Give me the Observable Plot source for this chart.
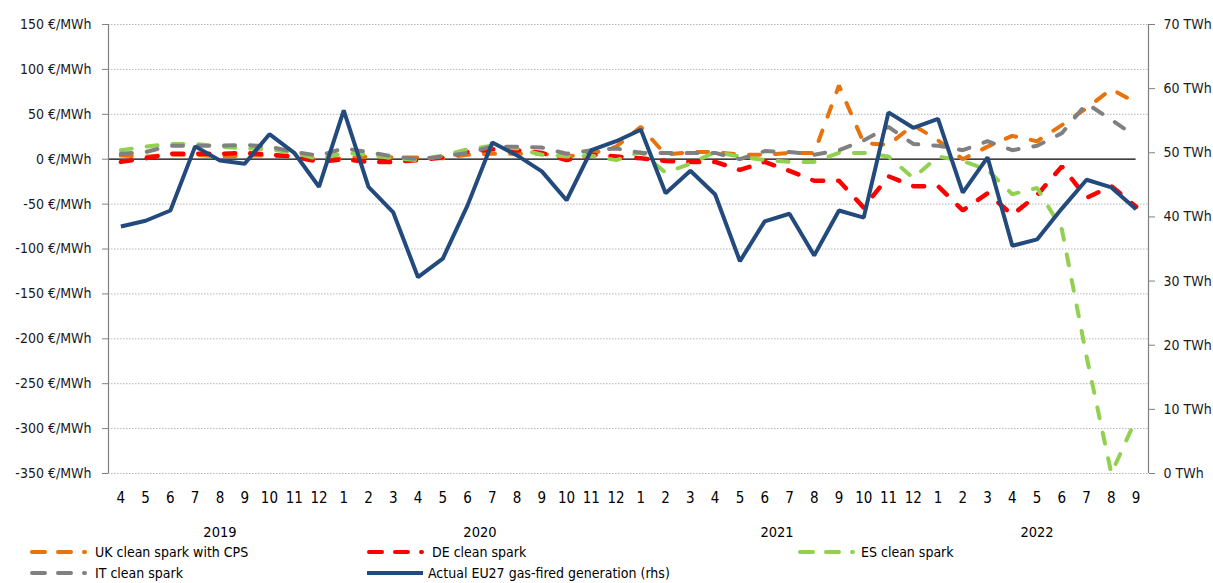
<!DOCTYPE html>
<html>
<head>
<meta charset="utf-8">
<script src="https://cdn.jsdelivr.net/npm/d3@7"></script>
<script src="https://cdn.jsdelivr.net/npm/@observablehq/plot@0.6"></script>
<style>
  body { margin: 0; background: #fff; }
  #wrap { position: relative; width: 1213px; height: 583px; font-family: "DejaVu Sans Condensed", "DejaVu Sans", sans-serif; font-stretch: condensed; }
  #legend { position: absolute; left: 0; top: 541px; width: 1213px; height: 42px; font-size: 14px; color: #000; }
  .item { position: absolute; height: 20px; display: flex; align-items: center; white-space: nowrap; }
  .item svg { position: absolute; left: 0; top: 5px; }
  .item span { position: absolute; top: 0; line-height: 20px; }
</style>
</head>
<body>
<div id="wrap">
  <div id="chart"></div>
  <div id="legend"></div>
</div>
<script>
// ---- Data ----
// Months from 2019-04 to 2022-09
const monthLabels = [4,5,6,7,8,9,10,11,12,
  1,2,3,4,5,6,7,8,9,10,11,12,
  1,2,3,4,5,6,7,8,9,10,11,12,
  1,2,3,4,5,6,7,8,9];
const firstYear = 2019;

// €/MWh (left axis)
const ukCPS = [4,3,5,5,3,4,4,3,-1,
  1,3,2,2,1,5,6,6,6,3,6,14,
  36,5,8,8,5,5,7,7,82,18,16,38,
  21,0,14,26,20,38,57,78,63];
const deSpark = [-3,1,6,6,6,7,5,3,-3,
  0,-3,-3,-1,2,8,11,10,7,-1,5,3,
  1,-2,-3,-3,-12,-3,-13,-24,-24,-54,-19,-30,
  -30,-57,-38,-62,-40,-8,-43,-30,-53];
const esSpark = [10,14,17,17,14,12,11,7,0,
  7,5,1,-1,4,11,15,12,5,3,4,-1,
  8,-15,-5,8,3,-1,-3,-3,7,7,3,-21,
  3,-2,-12,-39,-32,-78,-220,-350,-289];
const itSpark = [6,8,15,15,15,16,14,8,4,
  12,8,3,0,3,7,14,14,13,6,10,12,
  7,7,7,7,0,9,8,5,10,21,36,17,
  15,10,20,10,15,29,62,44,25];
// TWh (right axis)
const eu27Gen = [38.5,39.4,41.0,51.0,48.8,48.3,52.9,50.0,44.7,
  56.6,44.7,40.7,30.6,33.5,41.8,51.6,49.6,47.1,42.6,50.4,51.8,
  53.6,43.7,47.2,43.5,33.1,39.3,40.5,34.0,41.0,39.9,56.3,53.9,
  55.3,43.8,49.3,35.5,36.5,41.3,45.8,44.6,41.2];

const leftTicks = [-350,-300,-250,-200,-150,-100,-50,0,50,100,150];
const rightTicks = [0,10,20,30,40,50,60,70];

// ---- Derived ----
const N = monthLabels.length;
const idx = d3.range(N);
const yLo = -350, yHi = 150, tLo = 0, tHi = 70;
const toLeft = t => yLo + (t - tLo) * (yHi - yLo) / (tHi - tLo);
const fromLeft = v => tLo + (v - yLo) * (tHi - tLo) / (yHi - yLo);

// year of each month
const yearOfIdx = [];
{ let y = firstYear; monthLabels.forEach((m, i) => { if (i > 0 && m === 1) y++; yearOfIdx.push(y); }); }
const yearGroups = d3.groups(idx, i => yearOfIdx[i]).map(([year, is]) => ({year: String(year), center: (d3.min(is) + d3.max(is)) / 2}));

const series = [
  {name: "UK clean spark with CPS", values: ukCPS, color: "#E8720C", width: 4, dash: "11,15"},
  {name: "DE clean spark", values: deSpark, color: "#FF0000", width: 4.5, dash: "11,15"},
  {name: "ES clean spark", values: esSpark, color: "#92D050", width: 4, dash: "11,15"},
  {name: "IT clean spark", values: itSpark, color: "#808080", width: 4, dash: "11,15"},
  {name: "Actual EU27 gas-fired generation (rhs)", values: eu27Gen.map(toLeft), color: "#234A7C", width: 4, dash: null}
];

const font = '"DejaVu Sans Condensed", "DejaVu Sans", sans-serif';

const lineMarks = series.map(s => Plot.line(idx, {
  x: i => i, y: i => s.values[i],
  stroke: s.color, strokeWidth: s.width,
  strokeDasharray: s.dash || undefined,
  strokeLinecap: s.dash ? "round" : "butt",
  strokeLinejoin: "miter", clip: true
}));

const chart = Plot.plot({
  width: 1213, height: 541,
  marginLeft: 108, marginRight: 65, marginTop: 24, marginBottom: 68,
  x: {type: "linear", domain: [-0.5, N - 0.5]},
  y: {domain: [yLo, yHi]},
  style: {fontFamily: font, fontStretch: "condensed", fontSize: "14px", color: "#1a1a1a", background: "#fff", overflow: "visible"},
  marks: [
    Plot.ruleY(leftTicks.filter(v => v !== 0), {stroke: "#b5b5b5", strokeDasharray: "1.5,1.5", strokeWidth: 1}),
    Plot.ruleY([0], {x1: -0.5, x2: N - 1, stroke: "#000", strokeWidth: 1.3}),
    Plot.ruleX([-0.5], {stroke: "#808080", strokeWidth: 1.2}),
    Plot.ruleX([N - 0.5], {stroke: "#808080", strokeWidth: 1.2}),
    Plot.axisY({anchor: "left", ticks: leftTicks, tickFormat: d => `${d} €/MWh`, tickSize: 6, tickPadding: 11, label: null, stroke: "#808080", fill: "#1a1a1a", fontSize: 14}),
    Plot.axisY({anchor: "right", ticks: rightTicks.map(toLeft), tickFormat: v => `${Math.round(fromLeft(v))} TWh`, tickSize: 6, tickPadding: 9, label: null, stroke: "#808080", fill: "#1a1a1a", fontSize: 14}),
    Plot.axisX({ticks: idx, tickFormat: i => String(monthLabels[i]), tickSize: 0, tickPadding: 19, fontSize: 15, label: null, fill: "#000"}),
    Plot.text(yearGroups, {x: "center", text: "year", frameAnchor: "bottom", dy: 63, fontSize: 14.5, fill: "#000"}),
    ...lineMarks
  ]
});
document.getElementById("chart").appendChild(chart);

// ---- Legend ----
const legendPos = [
  {left: 30, row: 0, textOff: 65},
  {left: 367, row: 0, textOff: 65},
  {left: 798, row: 0, textOff: 63},
  {left: 30, row: 1, textOff: 65},
  {left: 367, row: 1, textOff: 61}
];
const legend = document.getElementById("legend");
series.forEach((s, k) => {
  const p = legendPos[k];
  const item = document.createElement("div");
  item.className = "item";
  item.style.left = p.left + "px";
  item.style.top = (p.row * 21 + 1) + "px";
  const ns = "http://www.w3.org/2000/svg";
  const svg = document.createElementNS(ns, "svg");
  svg.setAttribute("width", 60); svg.setAttribute("height", 10);
  const ln = document.createElementNS(ns, "line");
  ln.setAttribute("y1", 5); ln.setAttribute("y2", 5);
  if (s.dash) {
    ln.setAttribute("x1", 2); ln.setAttribute("x2", 55);
    ln.setAttribute("stroke-dasharray", "13,13");
    ln.setAttribute("stroke-linecap", "round");
  } else {
    ln.setAttribute("x1", 0); ln.setAttribute("x2", 56);
  }
  ln.setAttribute("stroke", s.color);
  ln.setAttribute("stroke-width", 4);
  svg.appendChild(ln);
  item.appendChild(svg);
  const t = document.createElement("span");
  t.textContent = s.name;
  t.style.left = p.textOff + "px";
  item.appendChild(t);
  legend.appendChild(item);
});
</script>
</body>
</html>
